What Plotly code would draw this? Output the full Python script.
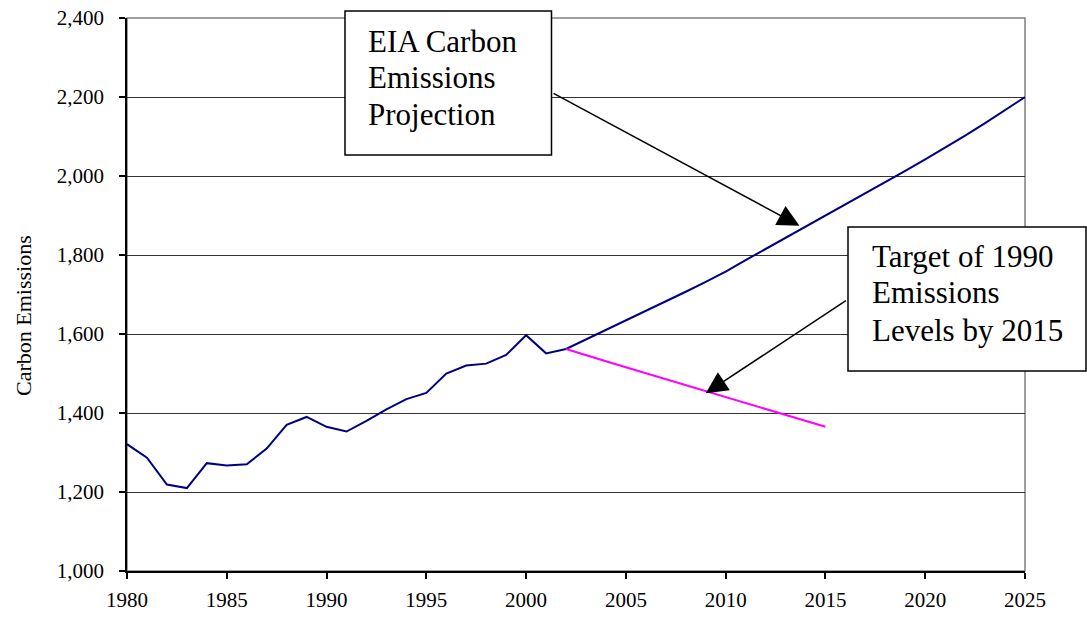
import plotly.graph_objects as go

# Carbon emissions: history plus EIA projection (one continuous series)
years = list(range(1980, 2026))
emissions = [
    1321, 1287, 1219, 1210, 1273, 1267, 1270, 1310, 1370, 1390,
    1365, 1353, 1380, 1409, 1435, 1451, 1500, 1520, 1525, 1547,
    1597, 1551, 1562, 1586, 1609, 1634, 1658, 1682, 1707, 1732,
    1758, 1787, 1815, 1843, 1871, 1899, 1927, 1955, 1984, 2013,
    2042, 2071, 2102, 2134, 2167, 2200,
]

# Reduction path back to 1990 levels by 2015
target_years = list(range(2002, 2016))
target_values = [1562, 1546, 1531, 1516, 1501, 1486, 1471, 1455, 1440, 1424,
                 1410, 1395, 1380, 1365]

x_ticks = [1980, 1985, 1990, 1995, 2000, 2005, 2010, 2015, 2020, 2025]
y_ticks = [1000, 1200, 1400, 1600, 1800, 2000, 2200, 2400]

box1_lines = ["EIA Carbon", "Emissions", "Projection"]
box2_lines = ["Target of 1990", "Emissions", "Levels by 2015"]

W, H = 1087, 618
ML, MR, MT, MB = 127, 62, 18, 47
PW, PH = W - ML - MR, H - MT - MB

def px(xp):
    return (xp - ML) / PW

def py(yp):
    return (H - MB - yp) / PH

FONT = "Liberation Serif"

fig = go.Figure()
fig.add_trace(go.Scatter(x=years, y=emissions, mode="lines",
                         line=dict(color="#000080", width=2), showlegend=False))
fig.add_trace(go.Scatter(x=target_years, y=target_values, mode="lines",
                         line=dict(color="#FF00FF", width=2), showlegend=False))

shapes = [
    # plot area frame
    dict(type="rect", xref="paper", yref="paper", x0=0, x1=1, y0=0, y1=1,
         line=dict(color="#808080", width=1.5), layer="below"),
    # callout boxes
    dict(type="rect", xref="paper", yref="paper", x0=px(345), x1=px(551.5),
         y0=py(155), y1=py(11), line=dict(color="black", width=1.5),
         fillcolor="white", layer="above"),
    dict(type="rect", xref="paper", yref="paper", x0=px(848), x1=px(1086),
         y0=py(371), y1=py(227), line=dict(color="black", width=1.5),
         fillcolor="white", layer="above"),
]

annotations = []
for text, yc in zip(box1_lines, [41.2, 77.8, 114.5]):
    annotations.append(dict(text=text, xref="paper", yref="paper", x=px(366), y=py(yc),
                            xanchor="left", yanchor="middle", showarrow=False,
                            font=dict(family=FONT, size=31, color="black")))
for text, yc in zip(box2_lines, [256.2, 292.8, 330.2]):
    annotations.append(dict(text=text, xref="paper", yref="paper", x=px(870), y=py(yc),
                            xanchor="left", yanchor="middle", showarrow=False,
                            font=dict(family=FONT, size=31, color="black")))

# y axis title
annotations.append(dict(text="Carbon Emissions", xref="paper", yref="paper",
                        x=px(23), y=py(316), xanchor="center", yanchor="middle",
                        textangle=-90, showarrow=False,
                        font=dict(family=FONT, size=22, color="black")))

# callout arrows
annotations.append(dict(text="", xref="x", yref="y", axref="x", ayref="y",
                        x=2013.7, y=1874, ax=2001.3, ay=2211, showarrow=True,
                        arrowhead=2, arrowsize=2.9, arrowwidth=1.5, arrowcolor="black"))
annotations.append(dict(text="", xref="x", yref="y", axref="x", ayref="y",
                        x=2009.0, y=1450, ax=2016.1, ay=1687, showarrow=True,
                        arrowhead=2, arrowsize=2.9, arrowwidth=1.5, arrowcolor="black"))

fig.update_layout(
    width=W, height=H,
    margin=dict(l=ML, r=MR, t=MT, b=MB, autoexpand=False),
    paper_bgcolor="white", plot_bgcolor="white",
    font=dict(family=FONT, size=21, color="black"),
    shapes=shapes, annotations=annotations,
    xaxis=dict(range=[1980, 2025], tickvals=x_ticks, ticks="outside", ticklen=6,
               tickcolor="black", tickwidth=1.5, showgrid=False, zeroline=False,
               showline=True, linecolor="black", linewidth=1.5,
               ticklabelstandoff=3, automargin=False),
    yaxis=dict(range=[1000, 2400], tickvals=y_ticks, tickformat=",", ticks="outside",
               ticklen=6, tickcolor="black", tickwidth=1.5, showgrid=True,
               gridcolor="#333333", gridwidth=1.4, zeroline=False,
               showline=True, linecolor="black", linewidth=1.5,
               ticklabelstandoff=11, automargin=False),
)

fig.write_html("out.html")
